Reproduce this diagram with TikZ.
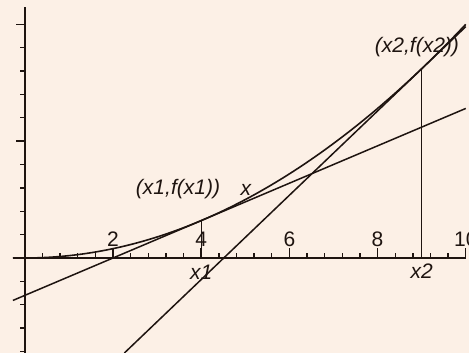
\documentclass[tikz,border=0pt]{standalone}
\usepackage{fontspec}
\setmainfont{Liberation Sans}
\usetikzlibrary{positioning}
\definecolor{cink}{HTML}{1E1410}
\definecolor{cpaper}{HTML}{FCF0E6}
\tikzset{
  every picture/.style={line width=1.2pt},
  axisline/.style={draw=cink, line width=2pt},
  curve/.style={draw=cink, line width=1.6pt},
  tangent/.style={draw=cink, line width=1.5pt},
  drop/.style={draw=cink, line width=1.1pt},
  ticklab/.style={font=\fontsize{21}{21}\selectfont, text=cink, inner sep=0.5pt},
  ptlab/.style={font=\fontsize{21}{21}\selectfont\itshape, text=cink, inner sep=0.5pt},
}
\begin{document}
\begin{tikzpicture}[x=44.1pt, y=2.337pt,
  tick/.style={draw=cink, line width=1.4pt}]
  \fill[cpaper] (-0.5624,-40.65) rectangle (10.073,110.4);
  \useasboundingbox (-0.5624,-40.65) rectangle (10.073,110.4);
  % axes and ticks
  \draw[axisline] (-0.27,0) -- (10,0);
  \draw[axisline] (0,-40.65) -- (0,107.5);
  \foreach \i in {1,...,25}
    \draw[tick] ({0.4*\i},0) -- ++(0,5pt);
  \foreach \t in {2,4,6,8,10}
    \draw[tick] (\t,0) -- ++(0,10pt);
  \foreach \v in {-40,-30,...,100}
    \draw[tick] (0,\v) -- ++(-4.5pt,0);
  \draw[tick] (0,50) -- ++(-9pt,0);
  \draw[tick] (0,100) -- ++(-9pt,0);
  \node[ticklab, above=10pt] (l2) at (2,0) {2};
  \node[ticklab, above=10pt] (l4) at (4,0) {4};
  \node[ticklab, above=10pt] (l6) at (6,0) {6};
  \node[ticklab, above=10pt] (l8) at (8,0) {8};
  \node[ticklab, above=10pt] (l10) at (10,0) {10};
  % the curve and its two tangents
  \draw[curve, domain=-0.27:10, samples=120] plot (\x,{\x*\x});
  \draw[tangent] (-0.27,-18.16) -- (10,64);
  \draw[tangent] (2.258,-40.65) -- (10,99);
  \coordinate (P1) at (4,16);
  \coordinate (P2) at (9,81);
  \coordinate (F1) at (4,0);
  \coordinate (F2) at (9,0);
  \draw[drop] (F1) -- (P1);
  \draw[drop] (F2) -- (P2);
  \node[ptlab, below=6pt] (x1) at (F1) {x1};
  \node[ptlab, below=5pt] (x2) at (F2) {x2};
  \node[ptlab] (p1) at (3.474,29.5) {(x1,f(x1))};
  \node[ptlab] (p2) at (8.893,90.3) {(x2,f(x2))};
  \node[ptlab] (xx) at (5.016,29.1) {x};
\end{tikzpicture}
\end{document}
